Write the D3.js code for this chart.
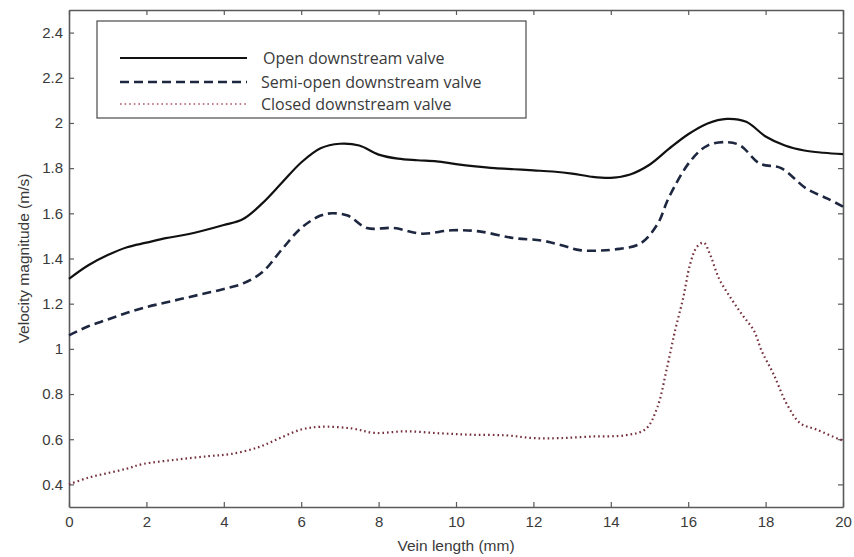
<!DOCTYPE html>
<html>
<head>
<meta charset="utf-8">
<script src="https://cdn.jsdelivr.net/npm/d3@7/dist/d3.min.js"></script>
<style>
  html, body { margin: 0; padding: 0; background: #fff; }
  svg { display: block; }
  .tick text { font-family: Arial, "Liberation Sans", sans-serif; font-size: 15px; fill: #3a3a3a; }
</style>
</head>
<body>
<svg id="chart" width="854" height="557"></svg>
<script>
// Velocity magnitude along the vein for three downstream valve states
const openX   = [0,0.5,1,1.5,2,2.5,3,3.5,4,4.5,5,5.5,6,6.5,7,7.5,8,8.5,9,9.5,10,10.5,11,11.5,12,12.5,13,13.5,14,14.5,15,15.5,16,16.5,17,17.5,18,18.5,19,19.5,20];
const openV   = [1.31,1.37,1.415,1.45,1.47,1.49,1.505,1.525,1.548,1.575,1.645,1.735,1.825,1.888,1.908,1.9,1.86,1.842,1.835,1.83,1.818,1.808,1.8,1.795,1.79,1.785,1.776,1.762,1.757,1.772,1.815,1.885,1.95,1.998,2.018,2.005,1.94,1.9,1.878,1.868,1.862];

const semiX   = [0,0.5,1,1.5,2,2.5,3,3.5,4,4.5,5,5.5,6,6.5,6.8,7.2,7.7,8.4,9.1,9.9,10.6,11.5,12.2,12.7,13.2,13.7,14.1,14.75,15.2,15.5,16.05,16.5,17,17.35,17.85,18.4,19.05,19.6,20];
const semiV   = [1.06,1.1,1.13,1.16,1.185,1.205,1.225,1.245,1.265,1.29,1.34,1.44,1.535,1.59,1.6,1.59,1.535,1.535,1.51,1.525,1.52,1.49,1.48,1.46,1.437,1.435,1.44,1.465,1.55,1.67,1.83,1.9,1.915,1.9,1.82,1.8,1.71,1.665,1.63];

const closedX = [0,0.5,1,1.5,1.9,2.8,3.6,4.2,4.9,5.45,6,6.5,7.3,7.9,8.7,9.6,10.4,11.3,12,12.7,13.5,14.4,14.9,15.2,15.45,15.66,15.87,16.05,16.22,16.4,16.56,16.8,17.1,17.4,17.7,17.9,18.2,18.55,18.9,19.3,19.9,20];
const closedV = [0.4,0.43,0.45,0.47,0.49,0.51,0.525,0.535,0.565,0.605,0.643,0.655,0.648,0.628,0.635,0.626,0.62,0.617,0.605,0.605,0.612,0.618,0.645,0.74,0.915,1.08,1.225,1.375,1.45,1.47,1.42,1.31,1.225,1.15,1.08,0.99,0.89,0.755,0.67,0.644,0.6,0.595];

const seriesNames = ["Open downstream valve", "Semi-open downstream valve", "Closed downstream valve"];
const xTicks = [0,2,4,6,8,10,12,14,16,18,20];
const yTicks = [0.4,0.6,0.8,1,1.2,1.4,1.6,1.8,2,2.2,2.4];
const xDomain = [0, 20];
const yDomain = [0.3, 2.5];
const xTitle = "Vein length (mm)";
const yTitle = "Velocity magnitude (m/s)";

const svg = d3.select("#chart");
const m = { left: 69, top: 10, right: 11, bottom: 50 };
const W = 854 - m.left - m.right;
const H = 557 - m.top - m.bottom;

const x = d3.scaleLinear().domain(xDomain).range([0, W]);
const y = d3.scaleLinear().domain(yDomain).range([H, 0]);

const g = svg.append("g").attr("transform", `translate(${m.left},${m.top})`);

const axisColor = "#5a5a5a";
const tickLen = 5;
const fmt = d => String(d);

// bottom and left axes with labels, ticks pointing inward
const axBottom = g.append("g").attr("transform", `translate(0,${H})`)
  .call(d3.axisBottom(x).tickValues(xTicks).tickFormat(fmt).tickSizeInner(-tickLen).tickSizeOuter(0).tickPadding(9));
const axLeft = g.append("g")
  .call(d3.axisLeft(y).tickValues(yTicks).tickFormat(fmt).tickSizeInner(-tickLen).tickSizeOuter(0).tickPadding(6));
// top and right mirror ticks
const axTop = g.append("g")
  .call(d3.axisTop(x).tickValues(xTicks).tickFormat("").tickSizeInner(-tickLen).tickSizeOuter(0));
const axRight = g.append("g").attr("transform", `translate(${W},0)`)
  .call(d3.axisRight(y).tickValues(yTicks).tickFormat("").tickSizeInner(-tickLen).tickSizeOuter(0));

[axBottom, axLeft, axTop, axRight].forEach(a => {
  a.select(".domain").attr("stroke", axisColor).attr("stroke-width", 1.6);
  a.selectAll(".tick line").attr("stroke", axisColor).attr("stroke-width", 1.2);
});

// series lines
const line = d3.line()
  .x(d => x(d[0])).y(d => y(d[1]))
  .curve(d3.curveCatmullRom.alpha(0.5));

const styles = [
  { stroke: "#111111", width: 2.2, dash: null },
  { stroke: "#1e2740", width: 2.6, dash: "9,5" },
  { stroke: "#74303c", width: 2.2, dash: "1.6,3" }
];
const data = [
  d3.zip(openX, openV),
  d3.zip(semiX, semiV),
  d3.zip(closedX, closedV)
];

data.forEach((d, i) => {
  g.append("path")
    .datum(d)
    .attr("fill", "none")
    .attr("stroke", styles[i].stroke)
    .attr("stroke-width", styles[i].width)
    .attr("stroke-dasharray", styles[i].dash)
    .attr("d", line);
});

// legend
const lg = svg.append("g").attr("transform", "translate(97,21)");
lg.append("rect")
  .attr("width", 429).attr("height", 97)
  .attr("fill", "#fff").attr("stroke", "#4a4a4a").attr("stroke-width", 1.2);
const rowY = [37, 61, 83];
const legendStyles = [
  { stroke: "#111111", width: 2.2, dash: null },
  { stroke: "#1e2740", width: 2.6, dash: "9,5" },
  { stroke: "#c0808a", width: 1.8, dash: "1.6,3" }
];
seriesNames.forEach((name, i) => {
  lg.append("line")
    .attr("x1", 23).attr("x2", 150)
    .attr("y1", rowY[i]).attr("y2", rowY[i])
    .attr("stroke", legendStyles[i].stroke)
    .attr("stroke-width", legendStyles[i].width)
    .attr("stroke-dasharray", legendStyles[i].dash);
  lg.append("text")
    .attr("x", i === 0 ? 166 : 164).attr("y", rowY[i])
    .attr("dy", "0.35em")
    .attr("font-family", "'Open Sans', 'Noto Sans', sans-serif")
    .attr("font-size", 16)
    .attr("fill", "#3a3a3a")
    .text(name);
});

// axis titles
svg.append("text")
  .attr("x", m.left + W / 2).attr("y", 551)
  .attr("text-anchor", "middle")
  .attr("font-family", "Arial, 'Liberation Sans', sans-serif")
  .attr("font-size", 15.5)
  .attr("fill", "#3a3a3a")
  .text(xTitle);
svg.append("text")
  .attr("transform", `translate(29,${m.top + H / 2}) rotate(-90)`)
  .attr("text-anchor", "middle")
  .attr("font-family", "Arial, 'Liberation Sans', sans-serif")
  .attr("font-size", 15.5)
  .attr("fill", "#3a3a3a")
  .text(yTitle);
</script>
</body>
</html>
